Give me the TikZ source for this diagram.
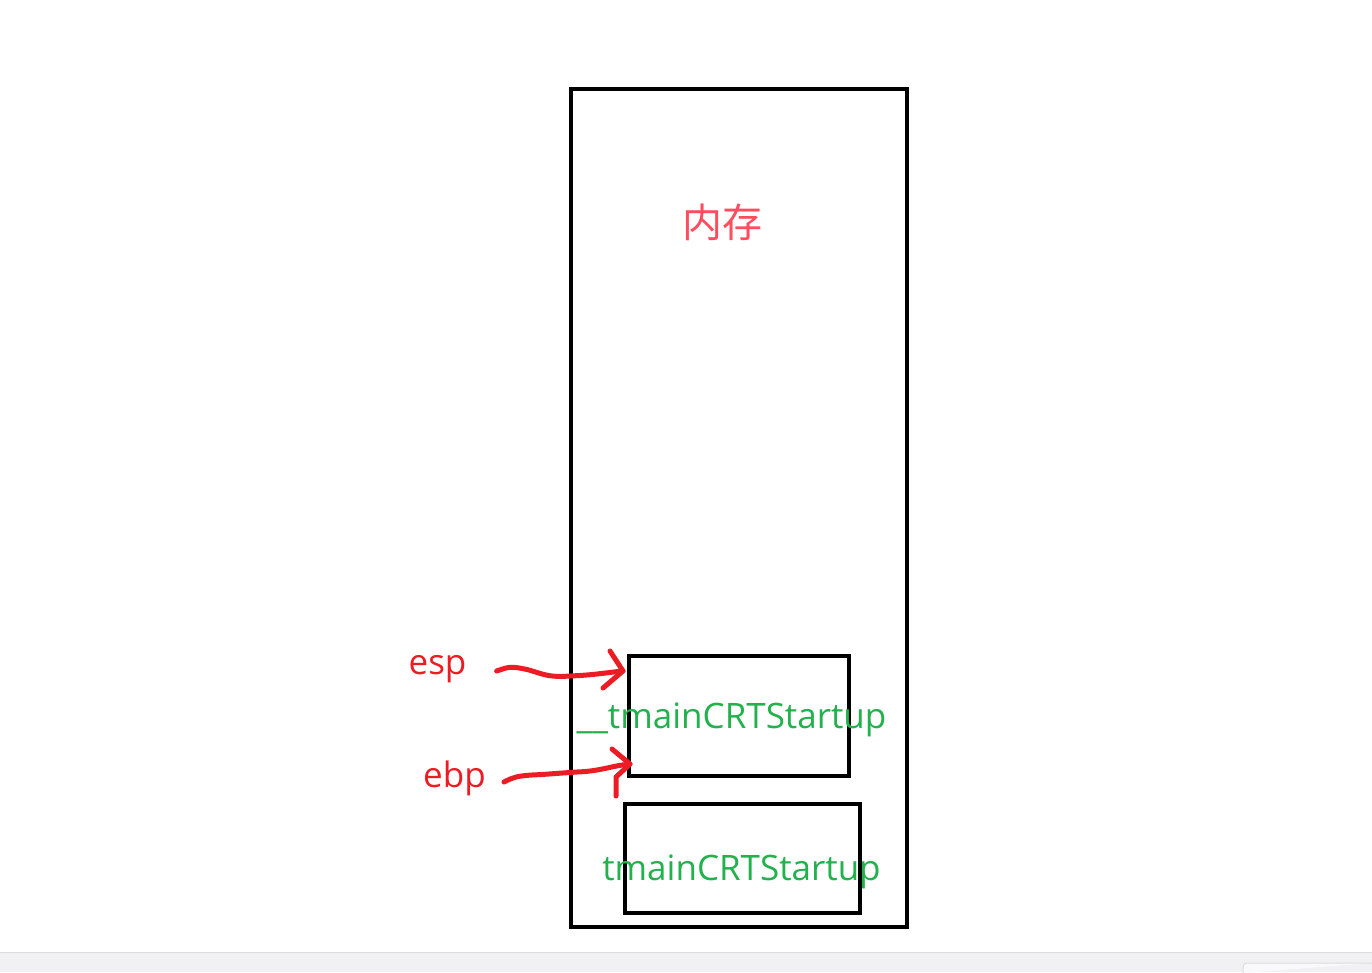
\documentclass[tikz,border=0pt]{standalone}
\usepackage{fontspec}
\setmainfont{Open Sans}
\newfontfamily\cjk{Noto Sans CJK SC}
\definecolor{memred}{HTML}{FF4D5E}
\definecolor{ptrred}{HTML}{EC1C24}
\definecolor{fgreen}{HTML}{22B14C}
\definecolor{barfill}{HTML}{F1F1F4}
\definecolor{barline}{HTML}{DCDCDE}
\begin{document}
\begin{tikzpicture}[x=1pt,y=-1pt,
  boxline/.style={draw=black,line width=4.5pt},
  ptr/.style={draw=ptrred,line width=5pt,line cap=round,line join=round},
  lbl/.style={inner sep=0pt,font=\fontsize{35}{38}\selectfont},
  fn/.style={inner sep=0pt,text=fgreen,font=\fontsize{35}{38}\selectfont}]
\useasboundingbox (0,0) rectangle (1372,972);
% bottom bar
\fill[barfill] (0,953) rectangle (1372,972);
\draw[barline,line width=1.2pt] (0,952.5) -- (1372,952.5);
\draw[barline,fill=white!60!barfill,line width=1pt,rounded corners=4pt] (1243,973) -- (1243,963) -- (1373,963);
% memory
\node[boxline,minimum width=336pt,minimum height=838pt,inner sep=0pt] (mem) at (739,508) {};
\node[inner sep=0pt,text=memred,font=\cjk\fontsize{40}{42}\selectfont] (memlbl) at (722,222) {内存};
% frames
\node[boxline,minimum width=220pt,minimum height=120pt,inner sep=0pt] (f1) at (739,716) {};
\node[boxline,minimum width=235pt,minimum height=109pt,inner sep=0pt] (f2) at (742.5,858.5) {};
\node[fn] (f1lbl) at (731.5,720) {\_\_tmainCRTStartup};
\node[fn] (f2lbl) at (741.5,872) {tmainCRTStartup};
% pointer labels
\node[lbl,text=ptrred] (esp) at (437.5,669) {esp};
\node[lbl,text=ptrred] (ebp) at (454.5,778) {ebp};
\coordinate (esptip) at (623,671);
\coordinate (ebptip) at (630,764);
\draw[ptr] (esp.east)++(30,2) .. controls +(12,-4) and +(-15,-3) .. ++(28,-2)
  .. controls +(15,3) and +(-25,2) .. ++(45,7) .. controls +(25,-1) and +(-20,2) .. (esptip);
\draw[ptr] (esptip)++(-13,-20) -- (esptip) -- ++(-20,17);
\draw[ptr] (ebp.east)++(18,4) .. controls +(10,-5) and +(-15,1) .. ++(28,-7)
  .. controls +(20,-1) and +(-30,2) .. ++(45,-3) .. controls +(25,-1) and +(-20,2) .. (ebptip);
\draw[ptr] (ebptip)++(-18,-15) -- (ebptip) -- ++(-14,13) -- ++(0,19);
\end{tikzpicture}
\end{document}
